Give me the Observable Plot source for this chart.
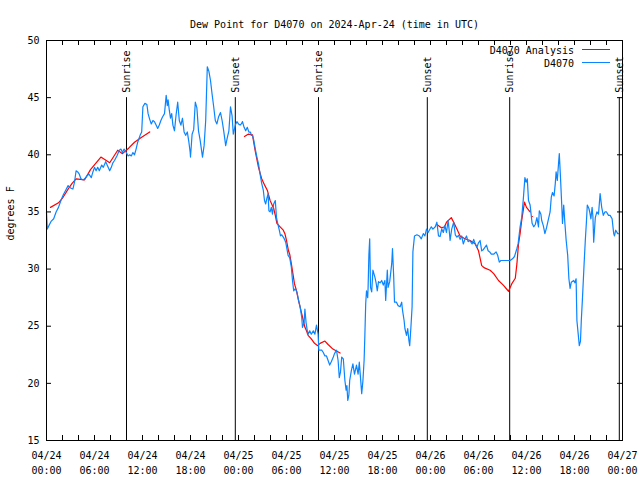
<!DOCTYPE html>
<html>
<head>
<meta charset="utf-8">
<script src="https://cdn.jsdelivr.net/npm/d3@7"></script>
<script src="https://cdn.jsdelivr.net/npm/@observablehq/plot@0.6"></script>
<style>
  html, body { margin: 0; padding: 0; background: white; }
  #wrap { position: relative; width: 640px; height: 480px; font-family: "DejaVu Sans Mono", monospace; }
  #legend { position: absolute; left: 0; top: 0; pointer-events: none; }
</style>
</head>
<body>
<div id="wrap"></div>
<script>
// ---- Data (hours since 2024-04-24 00:00 UTC, degrees F) ----
const titleText = "Dew Point for D4070 on 2024-Apr-24 (time in UTC)";
const yLabel = "degrees F";
const seriesNames = ["D4070 Analysis", "D4070"];
const seriesColors = ["#ff0000", "#0a84ff"];

const xTickHours = [0, 6, 12, 18, 24, 30, 36, 42, 48, 54, 60, 66, 72];
const xTickDates = ["04/24","04/24","04/24","04/24","04/25","04/25","04/25","04/25","04/26","04/26","04/26","04/26","04/27"];
const xTickTimes = ["00:00","06:00","12:00","18:00","00:00","06:00","12:00","18:00","00:00","06:00","12:00","18:00","00:00"];
const xMinorHours = [0,2,4,6,8,10,12,14,16,18,20,22,24,26,28,30,32,34,36,38,40,42,44,46,48,50,52,54,56,58,60,62,64,66,68,70,72];
const yTicks = [15, 20, 25, 30, 35, 40, 45, 50];

const sunHours = [10.0, 23.6, 34.0, 47.6, 57.9, 71.6];
const sunLabels = ["Sunrise", "Sunset", "Sunrise", "Sunset", "Sunrise", "Sunset"];

const blueH = [0.0,0.1,0.3,0.6,0.9,1.2,1.5,1.8,2.1,2.4,2.7,3.0,3.3,3.5,3.7,3.9,4.1,4.3,4.6,4.9,5.1,5.3,5.6,5.8,6.0,6.2,6.4,6.6,6.9,7.1,7.4,7.9,8.1,8.3,8.5,8.8,9.1,9.3,9.5,9.7,9.9,10.2,10.4,10.6,10.8,11.0,11.2,11.4,11.7,11.9,12.05,12.3,12.55,12.7,12.9,13.1,13.3,13.5,13.7,13.9,14.1,14.3,14.5,14.75,14.96,15.1,15.2,15.35,15.5,15.65,15.8,16.0,16.2,16.4,16.6,16.8,17.0,17.2,17.4,17.6,17.8,17.96,18.0,18.2,18.4,18.6,18.8,19.0,19.2,19.5,19.7,19.9,20.1,20.3,20.5,20.7,20.9,21.1,21.3,21.5,21.75,21.95,22.15,22.4,22.6,22.8,23.0,23.2,23.35,23.6,23.8,24.0,24.2,24.35,24.5,24.7,24.9,25.1,25.3,25.5,25.6,25.75,25.9,26.1,26.3,26.5,26.7,26.9,27.1,27.25,27.4,27.55,27.7,27.8,27.95,28.1,28.25,28.4,28.6,28.75,28.9,29.1,29.25,29.4,29.6,29.75,29.9,30.1,30.2,30.4,30.6,30.75,30.9,31.1,31.3,31.5,31.7,31.9,32.0,32.2,32.3,32.45,32.6,32.7,32.9,33.1,33.35,33.55,33.75,33.95,34.04,34.4,34.6,34.8,35.0,35.2,35.4,35.6,35.85,36.0,36.25,36.45,36.6,36.75,36.9,37.1,37.3,37.45,37.55,37.66,37.8,37.9,38.1,38.3,38.5,38.75,38.95,39.1,39.25,39.4,39.55,39.7,39.8,39.9,40.0,40.15,40.2,40.3,40.4,40.5,40.65,40.8,41.05,41.2,41.35,41.5,41.7,41.9,42.1,42.3,42.4,42.6,42.7,42.9,43.15,43.25,43.4,43.5,43.75,43.95,44.2,44.4,44.5,44.7,44.8,45.0,45.15,45.3,45.4,45.55,45.7,45.8,46.0,46.3,46.6,46.85,47.1,47.3,47.5,47.7,47.85,48.1,48.3,48.6,48.8,49.0,49.2,49.4,49.6,49.8,50.0,50.2,50.35,50.45,50.65,50.9,51.1,51.3,51.5,51.7,51.9,52.1,52.3,52.5,52.7,52.9,53.2,53.4,53.6,53.8,54.0,54.2,54.4,54.6,54.8,55.0,55.2,55.4,55.6,55.9,56.2,56.4,56.6,56.8,57.2,57.6,57.96,58.25,58.5,58.8,58.95,59.2,59.4,59.6,59.8,59.95,60.1,60.25,60.45,60.7,60.9,61.1,61.3,61.5,61.6,61.8,61.9,62.1,62.3,62.5,62.75,62.95,63.1,63.25,63.45,63.6,63.7,63.85,64.0,64.1,64.25,64.4,64.5,64.65,64.8,64.96,65.15,65.3,65.45,65.6,65.9,66.05,66.2,66.3,66.5,66.6,66.75,66.85,67.0,67.2,67.35,67.5,67.6,67.8,67.9,68.05,68.2,68.3,68.4,68.6,68.8,69.0,69.2,69.4,69.6,69.8,70.0,70.25,70.45,70.7,70.9,71.0,71.15,71.4,71.5];
const blueV = [35.0,33.5,33.8,34.2,34.4,35.0,35.4,36.0,36.5,36.9,37.3,37.1,37.0,37.6,38.6,38.5,38.3,37.9,37.8,38.0,38.2,38.3,38.0,38.5,38.9,38.6,38.9,38.6,39.1,38.9,39.4,38.6,38.9,39.3,39.5,39.9,40.4,40.5,40.2,40.5,40.3,39.9,40.0,39.9,40.2,40.0,40.5,41.1,41.7,42.0,44.2,44.5,44.4,43.6,43.1,42.7,43.0,42.9,42.6,42.3,42.6,43.0,43.3,43.6,45.2,44.3,44.8,43.9,43.2,43.6,42.6,42.1,43.5,44.6,43.0,42.6,43.2,42.0,41.7,42.0,41.1,40.2,39.8,41.8,42.2,44.6,44.1,42.1,41.3,39.8,40.8,43.0,47.7,47.3,46.5,45.3,44.2,43.0,42.7,43.3,43.7,43.0,42.1,40.8,41.5,42.1,44.2,43.4,41.8,42.6,42.9,42.7,42.6,42.7,42.9,42.4,42.1,42.4,41.98,41.98,41.7,41.7,41.3,40.5,39.8,39.2,38.3,37.5,36.9,36.0,35.7,36.2,36.6,35.1,35.0,35.4,34.8,35.7,36.0,34.5,34.0,33.4,32.9,33.0,32.8,32.6,32.35,31.6,31.2,31.0,30.2,29.0,28.1,28.3,28.0,27.3,26.7,25.8,24.9,25.3,26.5,25.3,24.6,24.3,24.6,24.3,24.6,24.3,25.1,24.3,22.9,22.9,22.7,22.4,22.4,22.0,21.6,21.9,22.3,22.6,22.9,22.0,20.5,21.0,22.3,22.15,20.25,19.4,19.8,18.5,19.0,20.25,21.1,21.7,20.8,21.6,20.8,21.85,20.5,19.1,20.2,22.0,24.3,26.95,28.1,27.5,28.4,31.3,32.65,28.4,28.0,29.9,29.3,28.8,28.1,28.9,28.8,29.0,28.6,29.0,27.25,29.9,28.4,28.9,30.45,31.8,29.3,27.1,27.1,26.8,26.7,27.1,26.4,25.5,24.8,24.2,24.8,23.75,23.3,24.9,26.7,31.5,32.9,33.0,32.9,32.65,33.1,32.9,33.5,33.2,33.4,33.7,33.5,33.7,34.1,32.9,32.85,33.5,33.2,33.8,33.2,34.25,33.3,32.5,33.5,34.1,33.0,32.8,32.95,32.6,32.9,32.2,32.6,32.9,32.4,32.5,32.2,32.6,32.2,31.9,32.3,32.5,31.6,31.7,31.9,32.1,31.6,31.5,31.3,31.3,31.5,31.2,30.6,30.75,30.75,30.75,30.75,30.9,31.1,31.8,32.2,33.7,34.5,36.1,38.0,37.6,37.9,36.0,35.6,34.0,33.7,33.9,34.5,33.7,35.1,34.8,34.25,33.8,33.1,33.6,34.4,35.0,36.3,36.7,36.4,37.5,38.5,37.75,39.2,40.1,38.0,35.7,34.0,35.6,34.0,32.5,31.2,29.15,28.3,28.85,29.0,28.8,29.15,25.5,24.05,23.3,23.7,25.5,27.5,30.45,32.5,34.25,35.6,35.3,35.0,34.4,35.4,34.6,32.35,34.5,35.0,34.8,36.6,35.4,34.7,35.0,35.0,34.7,34.7,34.4,33.1,32.9,33.4,33.1,33.1];

const redSeg = [1,1,1,1,1,1,1,1,1,1,1,1,1,1,1,1,
  2,2,2,2,2,2,2,2,2,2,2,2,2,2,2,2,2,2,2,2,2,2,2,2,2,2,2,2,2,2,2,2,2,2,2,2,2,2,2,2,
  3,3,3,3,3,3,3,3,3,3,3,3,3,3,3,3,3,3,3,3,3,3,3,3,3,3,3,3];
const redH = [0.5,1.5,2.0,2.7,3.2,3.7,4.75,5.5,6.8,7.9,8.9,9.5,10.3,11.0,11.8,12.9,
  24.75,25.2,25.75,25.9,26.1,26.3,26.5,26.7,26.9,27.3,27.6,27.95,28.4,28.6,28.8,29.2,29.6,29.8,30.0,30.25,30.4,30.6,30.8,31.0,31.25,31.5,31.7,31.9,32.1,32.3,32.5,32.7,33.1,33.5,33.9,34.2,34.8,35.2,35.8,36.7,
  48.8,49.4,49.75,50.0,50.6,50.9,51.3,51.7,52.3,52.95,53.6,54.0,54.4,54.75,55.45,55.9,56.5,57.1,57.75,58.15,58.6,58.8,59.0,59.2,59.4,59.75,60.0,60.45,60.75];
const redV = [35.4,35.8,36.2,37.0,37.5,37.9,37.8,38.7,39.8,39.3,40.4,40.1,40.6,41.1,41.5,42.0,
  41.6,41.8,41.75,41.1,40.3,39.6,38.9,38.4,37.9,37.3,36.9,36.0,35.3,34.7,34.0,33.7,33.4,33.1,32.5,31.6,31.3,30.5,29.6,28.7,28.1,27.25,26.7,26.1,25.5,24.9,24.6,24.2,23.9,23.5,23.3,23.5,23.7,23.4,23.0,22.65,
  33.9,33.6,33.7,34.1,34.5,34.1,33.5,32.9,32.65,32.5,32.2,31.6,30.3,30.1,29.9,29.6,29.0,28.6,28.06,28.7,29.2,30.45,32.2,33.1,34.25,35.85,35.4,35.0,34.6];

// ---- Build tables ----
const blue = blueH.map((h, i) => ({h, v: blueV[i]}));
const red = redH.map((h, i) => ({h, v: redV[i], s: redSeg[i]}));
const sun = sunHours.map((h, i) => ({h, label: sunLabels[i]}));

const W = 640, H = 480, mL = 46, mR = 18, mT = 40, mB = 40;
const fw = W - mL - mR, fh = H - mT - mB;
const tk = 5;

const chart = Plot.plot({
  width: W, height: H,
  marginLeft: mL, marginRight: mR, marginTop: mT, marginBottom: mB,
  style: {fontFamily: "DejaVu Sans Mono, monospace", fontSize: "10px", background: "white", color: "black"},
  x: {domain: [0, 72]},
  y: {domain: [15, 50]},
  marks: [
    // tick marks (inward, mirrored)
    Plot.tickX(xMinorHours, {x: d => d, insetTop: fh - tk, stroke: "black"}),
    Plot.tickX(xMinorHours, {x: d => d, insetBottom: fh - tk, stroke: "black"}),
    Plot.tickY(yTicks, {y: d => d, insetRight: fw - tk, stroke: "black"}),
    Plot.tickY(yTicks, {y: d => d, insetLeft: fw - tk, stroke: "black"}),
    Plot.axisX({ticks: xTickHours, tickSize: 0, tickPadding: 7, lineHeight: 1.55, label: null,
      tickFormat: d => { const i = xTickHours.indexOf(d); return xTickDates[i] + "\n" + xTickTimes[i]; }}),
    Plot.axisY({ticks: yTicks, tickSize: 0, tickPadding: 7, label: null}),
    // sunrise / sunset markers
    Plot.ruleX(sun, {x: "h", y1: 15, y2: 45, stroke: "black"}),
    Plot.text(sun, {x: "h", y: 45, text: "label", rotate: -90, textAnchor: "start", dy: -5, fill: "black"}),
    // series
    Plot.line(red, {x: "h", y: "v", z: "s", stroke: seriesColors[0], strokeWidth: 1.2, curve: "linear"}),
    Plot.line(blue, {x: "h", y: "v", stroke: seriesColors[1], strokeWidth: 1.2, curve: "linear"}),
    Plot.frame({stroke: "black"}),
    // title and y label
    Plot.text([titleText], {text: d => d, frameAnchor: "top", dy: -20, fill: "black"}),
    Plot.text([yLabel], {text: d => d, frameAnchor: "left", dx: -36, rotate: -90, fill: "black"})
  ]
});

const wrap = document.getElementById("wrap");
wrap.appendChild(chart);

// legend overlay (top-right, inside the plot)
const ns = "http://www.w3.org/2000/svg";
const leg = document.createElementNS(ns, "svg");
leg.setAttribute("id", "legend");
leg.setAttribute("width", W);
leg.setAttribute("height", H);
seriesNames.forEach((name, i) => {
  const y = 50 + i * 13;
  const t = document.createElementNS(ns, "text");
  t.setAttribute("x", 574);
  t.setAttribute("y", y);
  t.setAttribute("text-anchor", "end");
  t.setAttribute("dominant-baseline", "central");
  t.setAttribute("font-family", "DejaVu Sans Mono, monospace");
  t.setAttribute("font-size", "10");
  t.textContent = name;
  leg.appendChild(t);
  const l = document.createElementNS(ns, "line");
  l.setAttribute("x1", 582); l.setAttribute("x2", 610);
  l.setAttribute("y1", y - 0.5); l.setAttribute("y2", y - 0.5);
  l.setAttribute("stroke", seriesColors[i]);
  l.setAttribute("stroke-width", 1);
  leg.appendChild(l);
});
wrap.appendChild(leg);
</script>
</body>
</html>
